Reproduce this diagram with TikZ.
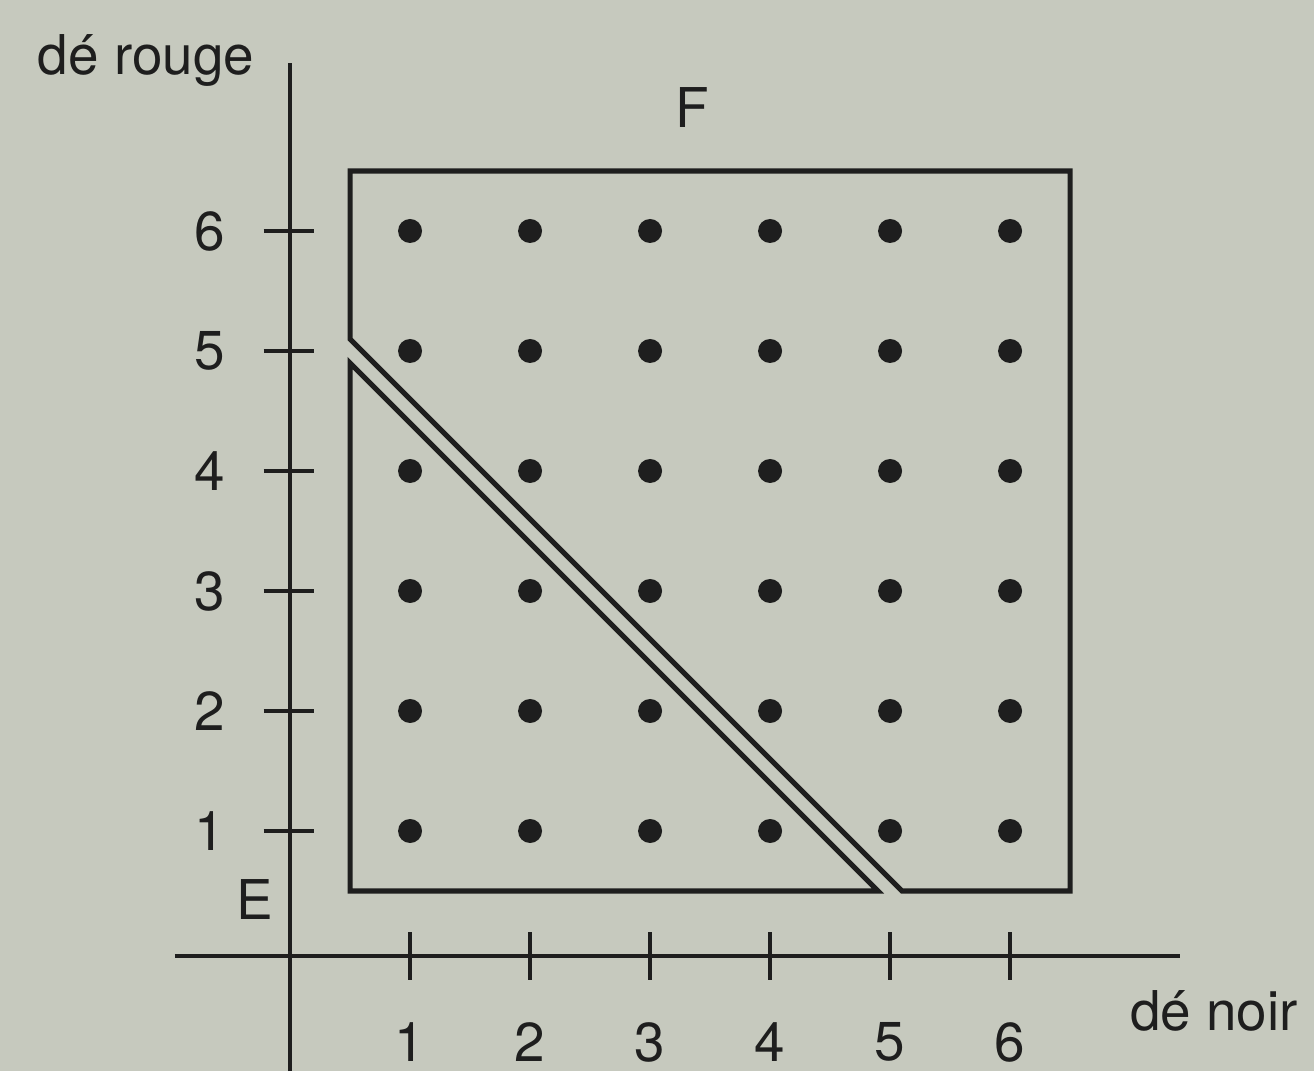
\documentclass[tikz,border=0pt]{standalone}
\usepackage{fontspec}
\setmainfont{TeX Gyre Heros}
\usepackage{xcolor}
\definecolor{paperGrey}{RGB}{198,201,190}
\definecolor{inkDark}{RGB}{30,30,30}

\begin{document}
\begin{tikzpicture}[x=1cm,y=1cm,
  axisLine/.style={draw=inkDark, line width=1pt},
  tickLine/.style={draw=inkDark, line width=1pt},
  regionLine/.style={draw=inkDark, line width=1.2pt, line join=miter},
  lbl/.style={inner sep=0pt, text=inkDark, font=\fontsize{13}{15}\selectfont},
  dotMark/.style={circle, fill=inkDark, inner sep=0pt, minimum size=0.2cm}]
\fill[paperGrey] (-2.417,-1.0) rectangle (8.533,7.925);
\useasboundingbox (-2.417,-1.0) rectangle (8.533,7.925);
% axes
\coordinate (xStart) at (-0.96,-0.04);
\coordinate (xEnd) at (7.42,-0.04);
\coordinate (yStart) at (0,-1.0);
\coordinate (yEnd) at (0,7.4);
\draw[axisLine] (xStart) -- (xEnd);
\draw[axisLine] (yStart) -- (yEnd);
\node[lbl] (yTitle) at (-1.2,7.42) {dé rouge};
\node[lbl] (xTitle) at (7.7,-0.5) {dé noir};
% ticks and their numbers
\foreach \k in {1,...,6}{
  \draw[tickLine] (\k,-0.24) -- (\k,0.16);
  \draw[tickLine] (-0.22,\k) -- (0.2,\k);
  \node[lbl] (xNum\k) at (\k,-0.76) {\k};
  \node[lbl] (yNum\k) at (-0.67,\k) {\k};
}
% outcomes of the two dice
\foreach \i in {1,...,6}{
  \foreach \j in {1,...,6}{
    \node[dotMark] (d\i\j) at (\i,\j) {};
  }
}
% events E and F
\draw[regionLine] (0.5,0.5) -- (4.9,0.5) -- (0.5,4.9) -- cycle;
\draw[regionLine] (0.5,6.5) -- (6.5,6.5) -- (6.5,0.5) -- (5.1,0.5) -- (0.5,5.1) -- cycle;
\node[lbl] (labelE) at (-0.29,0.43) {E};
\node[lbl] (labelF) at (3.35,7.03) {F};
\end{tikzpicture}
\end{document}
